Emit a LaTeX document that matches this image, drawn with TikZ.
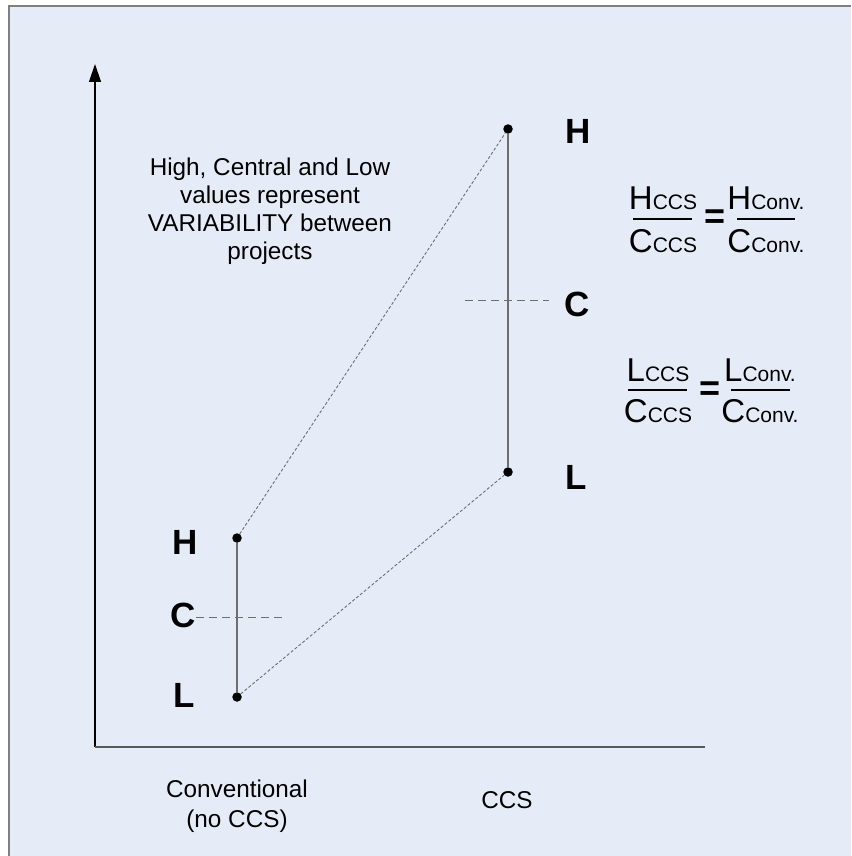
\documentclass[tikz,border=0pt]{standalone}
\usepackage{fontspec}
\setmainfont{Liberation Sans}
\usetikzlibrary{arrows.meta}
\definecolor{bgblue}{HTML}{E6ECF7}
\definecolor{framegrey}{HTML}{7F7F7F}
\definecolor{linegrey}{HTML}{6E6E6E}
\tikzset{
  lbl/.style={font=\fontsize{35}{35}\selectfont\bfseries, inner sep=0pt, anchor=center},
  txt/.style={font=\fontsize{24.3}{28}\selectfont, inner sep=0pt, align=center},
  vbar/.style={draw=linegrey, line width=1.6pt},
  cdash/.style={draw=linegrey, line width=1pt, dash pattern=on 8pt off 5pt},
  dotline/.style={draw=linegrey, line width=0.9pt, dash pattern=on 3pt off 2pt},
  pt/.style={circle, fill=black, inner sep=0pt, minimum size=9.5pt},
  fracbar/.style={draw=black, line width=1.3pt},
  big/.style={font=\fontsize{33}{33}\selectfont, inner sep=0pt},
  eq/.style={font=\fontsize{36}{36}\selectfont\bfseries, inner sep=0pt, anchor=center},
}
\newcommand{\sm}{\fontsize{21}{21}\selectfont}
\begin{document}
\begin{tikzpicture}[x=1pt,y=-1pt]
\useasboundingbox (0,0) rectangle (851,856);
\fill[white] (0,0) rectangle (851,856);
\fill[bgblue] (9,6) rectangle (851,856);
\draw[framegrey, line width=1.5pt] (9,856) -- (9,6) -- (851,6);
% axes
\coordinate (o) at (95,747);
\coordinate (ytop) at (95,64);
\coordinate (xend) at (705,747);
\draw[black, line width=1.3pt, -{Triangle[length=18pt,width=12pt]}] (o) -- (ytop);
\draw[linegrey!80!black, line width=1.6pt] (o) -- (xend);
% conventional
\node[pt] (cH) at (237,538) {};
\node[pt] (cL) at (237,697) {};
\path[vbar] (cH) -- (cL);
\coordinate (cCa) at (196,617);
\coordinate (cCb) at (282,617);
\path[cdash] (cCa) -- (cCb);
\node[lbl] (lcH) at (185,542) {H};
\node[lbl] (lcC) at (183,615) {C};
\node[lbl] (lcL) at (184,695) {L};
% ccs
\node[pt] (sH) at (508,129) {};
\node[pt] (sL) at (508,472) {};
\path[vbar] (sH) -- (sL);
\coordinate (sCa) at (465,300);
\coordinate (sCb) at (549,300);
\path[cdash] (sCa) -- (sCb);
\node[lbl] (lsH) at (578,131) {H};
\node[lbl] (lsC) at (577,304) {C};
\node[lbl] (lsL) at (576,477) {L};
% connectors
\path[dotline] (cH) -- (sH);
\path[dotline] (cL) -- (sL);
% text
\node[txt, anchor=north] (note) at (270,158) {High, Central and Low\\values represent\\VARIABILITY between\\projects};
\node[txt, anchor=base] (conv) at (237,797) {Conventional};
\node[txt, anchor=base] (nocc) at (237,827) {(no CCS)};
\node[txt, anchor=base] (ccs) at (507,808) {CCS};
% fraction 1
\node[big, anchor=base] (f1n) at (663,209) {H{\sm CCS}};
\node[big, anchor=base] (f1d) at (663,252) {C{\sm CCS}};
\draw[fracbar] (633,219) -- (692,219);
\node[eq] (f1e) at (715.5,219) {=};
\node[big, anchor=base] (f1m) at (766,209) {H{\sm Conv.}};
\node[big, anchor=base] (f1p) at (766,252) {C{\sm Conv.}};
\draw[fracbar] (737,219) -- (795,219);
% fraction 2
\node[big, anchor=base] (f2n) at (658,381) {L{\sm CCS}};
\node[big, anchor=base] (f2d) at (658,422) {C{\sm CCS}};
\draw[fracbar] (628,390) -- (687,390);
\node[eq] (f2e) at (710.5,391) {=};
\node[big, anchor=base] (f2m) at (760,381) {L{\sm Conv.}};
\node[big, anchor=base] (f2p) at (760,422) {C{\sm Conv.}};
\draw[fracbar] (731,390) -- (790,390);
\end{tikzpicture}
\end{document}
